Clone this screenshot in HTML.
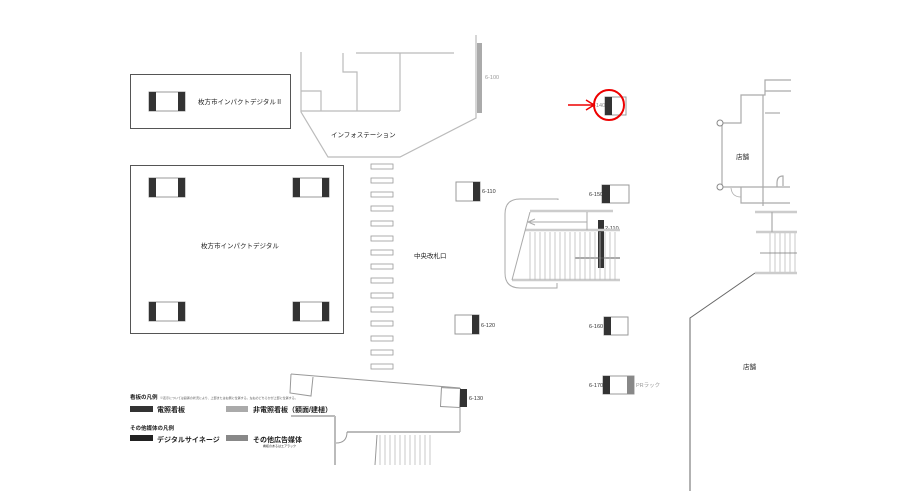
<!DOCTYPE html>
<html><head><meta charset="utf-8"><style>
html,body{margin:0;padding:0;background:#fff;}
svg{display:block;font-family:"Liberation Sans","Noto Sans CJK JP",sans-serif;}
</style></head><body>
<svg width="919" height="491" viewBox="0 0 919 491" xmlns="http://www.w3.org/2000/svg">
<g fill="none" stroke="#555" stroke-width="1">
<rect x="130.5" y="74.5" width="160" height="54"/>
<rect x="130.5" y="165.5" width="213" height="168"/>
</g>
<g>
<g id="s"><rect x="149" y="92" width="36" height="19" fill="#fff" stroke="#999"/><rect x="149" y="92" width="7" height="19" fill="#333"/><rect x="178" y="92" width="7" height="19" fill="#333"/></g>
<use href="#s" y="86"/><use href="#s" x="144" y="86"/><use href="#s" y="210"/><use href="#s" x="144" y="210"/>
</g>
<g font-size="6.5" fill="#222">
<text x="198" y="104">枚方市インパクトデジタルⅡ</text>
<text x="201" y="248">枚方市インパクトデジタル</text>
<text x="331" y="137">インフォステーション</text>
<text x="414" y="258">中央改札口</text>
<text x="736" y="159">店舗</text>
<text x="743" y="369">店舗</text>
</g>
<g fill="none" stroke="#bbb" stroke-width="1.2">
<polyline points="301,52 301,112 328,157 400,157 476,118 476,35"/>
<line x1="301" y1="111" x2="400" y2="111"/>
<polyline points="301,91 321,91 321,111"/>
<polyline points="343,53 343,72 357,72 357,111"/>
<line x1="356" y1="53" x2="454" y2="53"/>
<line x1="400" y1="53" x2="400" y2="111"/>
</g>
<rect x="477" y="43" width="5" height="70" fill="#aaa"/>
<text x="485" y="79" font-size="5.5" fill="#999">6-100</text>
<g fill="none" stroke="#999" stroke-width="0.8">
<rect x="371" y="164" width="22" height="5"/><rect x="371" y="178" width="22" height="5"/><rect x="371" y="192" width="22" height="5"/><rect x="371" y="206" width="22" height="5"/><rect x="371" y="221" width="22" height="5"/><rect x="371" y="236" width="22" height="5"/><rect x="371" y="250" width="22" height="5"/><rect x="371" y="264" width="22" height="5"/><rect x="371" y="278" width="22" height="5"/><rect x="371" y="293" width="22" height="5"/><rect x="371" y="307" width="22" height="5"/><rect x="371" y="321" width="22" height="5"/><rect x="371" y="336" width="22" height="5"/><rect x="371" y="350" width="22" height="5"/><rect x="371" y="364" width="22" height="5"/>
</g>
<g stroke="#999" fill="#fff">
<rect x="456" y="182" width="24" height="19"/><rect x="455" y="315" width="24" height="19"/>
<rect x="441" y="388" width="19" height="19" transform="rotate(3 450 397)"/>
<rect x="605" y="97" width="21" height="18"/><rect x="602" y="185" width="27" height="18"/>
<rect x="604" y="317" width="24" height="18"/><rect x="603" y="376" width="31" height="18"/>
</g>
<g fill="#333">
<rect x="473" y="182" width="7" height="19"/><rect x="472" y="315" width="7" height="19"/>
<rect x="460" y="389" width="7" height="18"/><rect x="605" y="97" width="7" height="18"/>
<rect x="602" y="185" width="8" height="18"/><rect x="604" y="317" width="7" height="18"/>
<rect x="603" y="376" width="7" height="18"/><rect x="598" y="220" width="6" height="48"/>
</g>
<rect x="627" y="376" width="7" height="18" fill="#888"/>
<g font-size="5.5" fill="#333">
<text x="482" y="193">6-110</text><text x="481" y="327">6-120</text><text x="469" y="400">6-130</text>
<text x="591" y="107" fill="#888">6-140</text><text x="589" y="196">6-150</text><text x="589" y="328">6-160</text>
<text x="589" y="387">6-170</text><text x="605" y="230">2-110</text><text x="636" y="387" fill="#999">PRラック</text>
</g>
<circle cx="609" cy="105" r="15" fill="none" stroke="#e00" stroke-width="2"/>
<line x1="568" y1="105" x2="594" y2="105" stroke="#e00" stroke-width="1.5"/>
<polyline points="586,100 594,105 586,110" fill="none" stroke="#e00" stroke-width="1.5"/>
<g fill="none" stroke="#aaa" stroke-width="1">
<path d="M558,200 V199 H520 Q505,199 505,214 V273 Q505,288 520,288 H557 V283"/>
<line x1="530" y1="211" x2="613" y2="211" stroke-width="2.5" stroke="#ccc"/>
<line x1="525" y1="230" x2="620" y2="230" stroke-width="2.5" stroke="#ccc"/>
<line x1="512" y1="280" x2="620" y2="280" stroke-width="2.5" stroke="#ccc"/>
<line x1="530" y1="212" x2="512" y2="280"/>
<line x1="587" y1="212" x2="587" y2="230"/>
<line x1="530" y1="222" x2="587" y2="222"/>
<polyline points="535,219 528,222 535,225"/>
<line x1="575" y1="258" x2="620" y2="258" stroke="#555"/>
</g>
<g stroke="#bbb" stroke-width="0.8">
<path d="M530 232V280M535 232V280M540 232V280M545 232V280M550 232V280M555 232V280M560 232V280M565 232V280M570 232V280M575 232V280M580 232V280M585 232V280M590 232V280M595 232V280M600 232V280M605 232V280M610 232V280M615 232V280"/>
<path d="M770 232V273M775 232V273M780 232V273M785 232V273M790 232V273M795 232V273"/>
<path d="M380 435V465M385 435V465M390 435V465M395 435V465M400 435V465M405 435V465M410 435V465M415 435V465M420 435V465M425 435V465M430 435V465"/>
</g>
<g fill="none" stroke="#aaa" stroke-width="1.2">
<polyline points="755,273 690,318 690,491" stroke="#666" stroke-width="1"/>
<line x1="755" y1="212" x2="797" y2="212" stroke-width="2.5" stroke="#ccc"/>
<line x1="756" y1="232" x2="797" y2="232" stroke-width="2.5" stroke="#ccc"/>
<line x1="755" y1="273" x2="797" y2="273" stroke-width="2.5" stroke="#ccc"/>
<line x1="772" y1="212" x2="772" y2="232"/>
<line x1="760" y1="253" x2="797" y2="253" stroke="#777" stroke-width="0.7"/>
<polyline points="791,80 765,80 765,95 741,95 741,123 722,123"/>
<line x1="765" y1="91" x2="791" y2="91"/>
<line x1="765" y1="113" x2="780" y2="113"/>
<line x1="722" y1="123" x2="722" y2="187"/>
<line x1="763" y1="95" x2="763" y2="201"/>
<line x1="722" y1="187" x2="790" y2="187"/>
<polyline points="741,187 741,203 790,203"/>
<line x1="763" y1="200" x2="763" y2="206"/>
<path d="M777,187 V183 Q777,176 783,176 V186"/>
<path d="M731,188 Q732,197 741,197" stroke-width="0.8"/>
</g>
<circle cx="720" cy="123" r="3" fill="#fff" stroke="#888"/>
<circle cx="720" cy="187" r="3" fill="#fff" stroke="#888"/>
<g fill="none" stroke="#999" stroke-width="1">
<line x1="291" y1="374" x2="460" y2="388"/>
<polyline points="291,374 290,393 311,396 313,377"/>
<line x1="460" y1="407" x2="460" y2="432"/>
<line x1="347" y1="432" x2="460" y2="432" stroke="#bbb" stroke-width="2"/>
<line x1="291" y1="416" x2="335" y2="416" stroke="#bbb" stroke-width="2"/>
<line x1="335" y1="416" x2="335" y2="465" stroke="#bbb" stroke-width="2"/>
<path d="M336,443 Q347,443 347,432"/>
<line x1="377" y1="435" x2="375" y2="465"/>
</g>
<g fill="#222" font-weight="bold">
<text x="130" y="399" font-size="5.5">看板の凡例</text>
<text x="160" y="399" font-size="3" font-weight="normal" fill="#555">※表示については設置の状況により、上部または右側に位置する。左右のどちらかが上部に位置する。</text>
<rect x="130" y="406" width="23" height="6" fill="#333"/>
<text x="157" y="412" font-size="7">電照看板</text>
<rect x="226" y="406" width="22" height="6" fill="#aaa"/>
<text x="253" y="412" font-size="7">非電照看板（額面/建植）</text>
<text x="130" y="430" font-size="5.5">その他媒体の凡例</text>
<rect x="130" y="435" width="23" height="6" fill="#222"/>
<text x="157" y="442" font-size="7">デジタルサイネージ</text>
<rect x="226" y="435" width="22" height="6" fill="#888"/>
<text x="253" y="442" font-size="7">その他広告媒体</text>
<text x="263" y="447" font-size="3" font-weight="normal">看板のあるはエアラック</text>
</g>
</svg>
</body></html>
